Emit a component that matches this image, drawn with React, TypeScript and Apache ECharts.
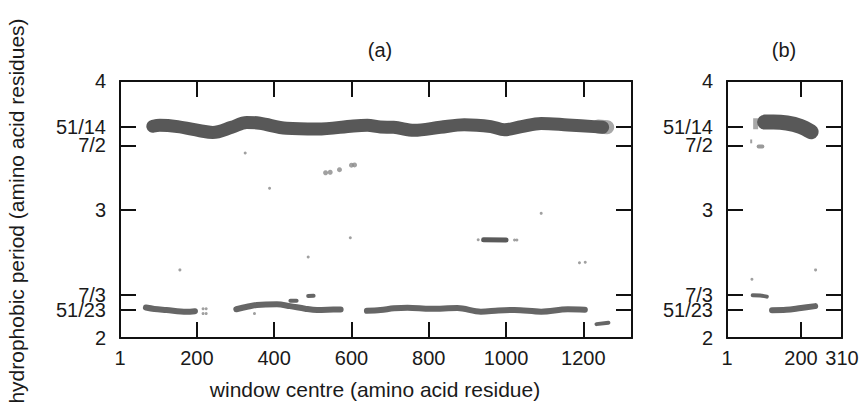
import React, { useEffect, useRef } from "react";
import * as echarts from "echarts";

const FONT = "'Liberation Sans', Arial, Helvetica, sans-serif";

// axis ticks / labels
const xTicksA = [200, 400, 600, 800, 1000, 1200];
const xLabelsA = [1, 200, 400, 600, 800, 1000, 1200];
const xTicksB = [200];
const xLabelsB = [1, 200, 310];
const yTickValues = [51 / 23, 7 / 3, 3, 7 / 2, 51 / 14];
const yLabelValues = [2, 51 / 23, 7 / 3, 3, 7 / 2, 51 / 14, 4];
const yLabelTexts = ["2", "51/23", "7/3", "3", "7/2", "51/14", "4"];

// panel (a) data: [window centre, period]
const topBandA = [
  [86, 3.648], [104, 3.656], [150, 3.645], [208, 3.613], [241, 3.6], [290, 3.64],
  [329, 3.678], [363, 3.671], [432, 3.632], [511, 3.626], [605, 3.65], [641, 3.655],
  [675, 3.642], [709, 3.64], [762, 3.616], [830, 3.64], [892, 3.66], [961, 3.645],
  [996, 3.62], [1040, 3.645], [1091, 3.67], [1160, 3.658], [1228, 3.645], [1250, 3.64],
];
const topTailA = [[1238, 3.646], [1262, 3.64]];
const lowA1 = [[68, 2.237], [90, 2.226], [121, 2.218], [173, 2.205], [195, 2.209]];
const lowA2 = [
  [302, 2.224], [330, 2.243], [355, 2.257], [407, 2.262], [441, 2.248], [480, 2.228],
  [511, 2.218], [553, 2.221], [572, 2.222],
];
const lowA3 = [
  [640, 2.212], [675, 2.218], [710, 2.231], [745, 2.236], [805, 2.228], [874, 2.233],
  [935, 2.205], [980, 2.214], [1022, 2.218], [1091, 2.205], [1160, 2.223], [1204, 2.22],
];
const lowA4 = [[1234, 2.108], [1265, 2.118]];
const shortA1 = [[442, 2.289], [458, 2.289]];
const shortA2 = [[488, 2.327], [502, 2.329]];
const clusterA = [[942, 2.765], [1000, 2.762]];
const dotsA = [
  [325, 3.44], [388, 3.165], [156, 2.53], [488, 2.63], [597, 2.78], [1091, 2.97],
  [1190, 2.586], [1205, 2.59], [349, 2.19], [216, 2.19], [224, 2.19], [216, 2.228], [224, 2.228],
  [928, 2.764], [1022, 2.763], [1028, 2.763],
];
const blobsA = [[533, 3.286], [545, 3.29], [569, 3.31], [600, 3.345], [608, 3.347]];

// panel (b) data
const topBandB = [[102, 3.68], [126, 3.681], [162, 3.673], [198, 3.647], [227, 3.605]];
const lightB = [[78, 3.71], [78, 3.625]];
const strokeB = [[66, 3.545], [66, 3.515]];
const blobB = [[86, 3.49], [96, 3.49]];
const lowB1 = [[70, 2.332], [90, 2.331], [108, 2.322]];
const lowB2 = [[122, 2.216], [160, 2.219], [200, 2.234], [238, 2.248]];
const dotsB = [[68, 2.457], [239, 2.53]];

function yFmt(v: number) {
  let best = 0;
  for (let i = 1; i < yLabelValues.length; i++) {
    if (Math.abs(yLabelValues[i] - v) < Math.abs(yLabelValues[best] - v)) best = i;
  }
  return yLabelTexts[best];
}

function band(data: number[][], xi: number, yi: number, width: number, color: string, cap = "round") {
  return {
    type: "line",
    xAxisIndex: xi,
    yAxisIndex: yi,
    data,
    symbol: "none",
    showSymbol: false,
    smooth: 0.35,
    silent: true,
    lineStyle: { width, color, cap, join: "round" },
    z: 2,
  };
}

function dots(data: number[][], xi: number, yi: number, size: number, color: string) {
  return {
    type: "scatter",
    xAxisIndex: xi,
    yAxisIndex: yi,
    data,
    symbol: "circle",
    symbolSize: size,
    silent: true,
    itemStyle: { color },
    z: 3,
  };
}

const axisLine = { show: true, onZero: false, lineStyle: { color: "#111", width: 2 } };

function xAxis(grid: number, pos: string, max: number, ticks: number[], labels: number[] | null) {
  return {
    type: "value",
    gridIndex: grid,
    position: pos,
    min: 1,
    max,
    axisLine,
    splitLine: { show: false },
    axisTick: { show: true, inside: true, length: 16, customValues: ticks, lineStyle: { color: "#111", width: 2 } },
    axisLabel: labels
      ? {
          show: true,
          customValues: labels,
          formatter: (v: number) => String(Math.round(v)),
          margin: 10,
          fontSize: 20,
          color: "#1a1a1a",
          fontFamily: FONT,
        }
      : { show: false },
  };
}

function yAxis(grid: number, pos: string, labels: boolean) {
  return {
    type: "value",
    gridIndex: grid,
    position: pos,
    min: 2,
    max: 4,
    axisLine,
    splitLine: { show: false },
    axisTick: { show: true, inside: true, length: 16, customValues: yTickValues, lineStyle: { color: "#111", width: 2 } },
    axisLabel: labels
      ? {
          show: true,
          customValues: yLabelValues,
          formatter: (v: number) => yFmt(v),
          margin: 14,
          fontSize: 20,
          color: "#1a1a1a",
          fontFamily: FONT,
          hideOverlap: false,
        }
      : { show: false },
  };
}

export default function App() {
  const ref = useRef<HTMLDivElement>(null);
  useEffect(() => {
    if (!ref.current) return;
    const chart = echarts.init(ref.current, undefined, { renderer: "svg" });
    const dark = "#585858";
    const mid = "#666666";
    chart.setOption({
      animation: false,
      backgroundColor: "#ffffff",
      grid: [
        { left: 120, top: 81, width: 512, height: 257, containLabel: false },
        { left: 727, top: 81, width: 115, height: 257, containLabel: false },
      ],
      xAxis: [
        xAxis(0, "bottom", 1326, xTicksA, xLabelsA),
        xAxis(0, "top", 1326, xTicksA, null),
        xAxis(1, "bottom", 310, xTicksB, xLabelsB),
        xAxis(1, "top", 310, xTicksB, null),
      ],
      yAxis: [yAxis(0, "left", true), yAxis(0, "right", false), yAxis(1, "left", true), yAxis(1, "right", false)],
      series: [
        band(topTailA, 0, 0, 14, "#a8a8a8"),
        band(topBandA, 0, 0, 13, dark),
        band(lowA1, 0, 0, 6, mid),
        band(lowA2, 0, 0, 6, mid),
        band(lowA3, 0, 0, 6, mid),
        band(lowA4, 0, 0, 4, mid),
        band(shortA1, 0, 0, 4, mid),
        band(shortA2, 0, 0, 4, mid),
        band(clusterA, 0, 0, 5, "#5a5a5a"),
        dots(dotsA, 0, 0, 3, "#888888"),
        dots(blobsA, 0, 0, 5, "#8a8a8a"),
        band(lightB, 2, 2, 5, "#a8a8a8", "butt"),
        band(topBandB, 2, 2, 15, dark),
        band(strokeB, 2, 2, 2, "#a0a0a0", "butt"),
        band(blobB, 2, 2, 4, "#9a9a9a"),
        band(lowB1, 2, 2, 4, mid),
        band(lowB2, 2, 2, 6, mid),
        dots(dotsB, 2, 2, 3, "#888888"),
      ],
      graphic: [
        { type: "text", x: 380, y: 50, style: { text: "(a)", font: `20px ${FONT}`, fill: "#1a1a1a", align: "center", verticalAlign: "middle" } },
        { type: "text", x: 784, y: 50, style: { text: "(b)", font: `20px ${FONT}`, fill: "#1a1a1a", align: "center", verticalAlign: "middle" } },
        {
          type: "text",
          x: 375,
          y: 389,
          style: { text: "window centre (amino acid residue)", font: `21px ${FONT}`, fill: "#1a1a1a", align: "center", verticalAlign: "middle" },
        },
        {
          type: "text",
          x: 16,
          y: 211,
          rotation: Math.PI / 2,
          style: { text: "hydrophobic period (amino acid residues)", font: `21px ${FONT}`, fill: "#1a1a1a", align: "center", verticalAlign: "middle" },
        },
      ],
    });
    return () => chart.dispose();
  }, []);
  return <div ref={ref} style={{ position: "fixed", left: 0, top: 0, width: 864, height: 403, background: "#fff" }} />;
}
